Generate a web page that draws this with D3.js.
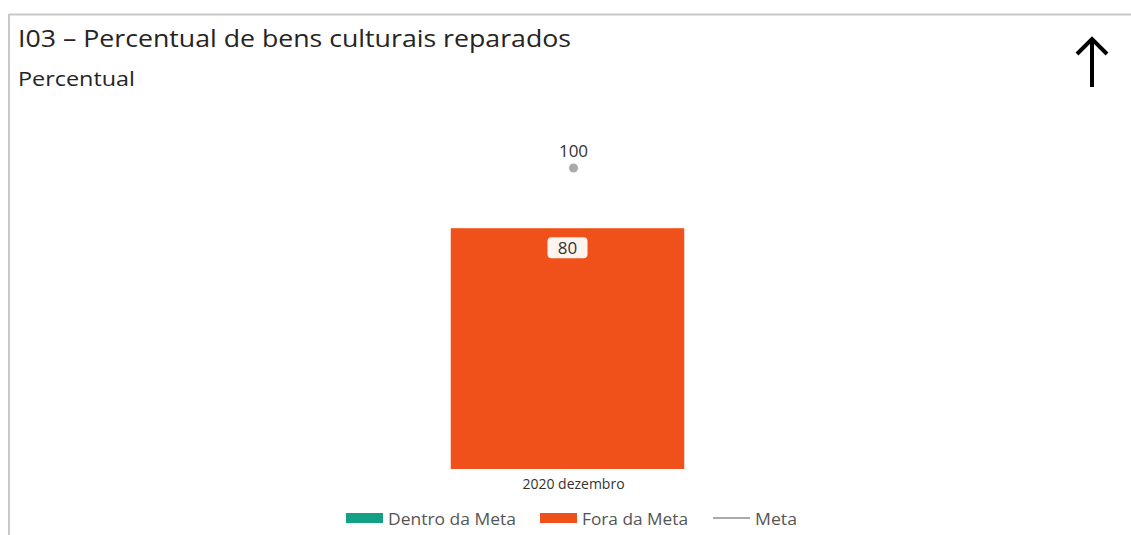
<!DOCTYPE html>
<html>
<head>
<meta charset="utf-8">
<script src="https://cdn.jsdelivr.net/npm/d3@7"></script>
<style>
  body { margin: 0; background: #fff; }
  text { font-family: "Open Sans", "Noto Sans", sans-serif; }
</style>
</head>
<body>
<div id="chart"></div>
<script>
let width = 1131,
height = 535;

// data
const categories = ["2020 dezembro"];
const realizado = [80];
const meta = [100];
const legendItems = ["Dentro da Meta", "Fora da Meta", "Meta"];

const colDentro = "#14a085", colFora = "#f0511a", colMeta = "#aaaaaa";

let svg = d3.select("#chart")
.append("svg")
.attr("width", width)
.attr("height", height);

// panel frame
svg.append("line").attr("x1", 9).attr("x2", width).attr("y1", 14.5).attr("y2", 14.5)
  .attr("stroke", "#c8c8c8").attr("stroke-width", 2);
svg.append("line").attr("x1", 9).attr("x2", 9).attr("y1", 14).attr("y2", height)
  .attr("stroke", "#c8c8c8").attr("stroke-width", 2);

svg.append("text").attr("x", 18).attr("y", 47).text("I03 – Percentual de bens culturais reparados")
  .style("font-size", "24px").attr("fill", "#252423")
  .attr("textLength", 553).attr("lengthAdjust", "spacingAndGlyphs");
svg.append("text").attr("x", 18).attr("y", 86).text("Percentual")
  .style("font-size", "20px").attr("fill", "#252423")
  .attr("textLength", 117).attr("lengthAdjust", "spacingAndGlyphs");

// arrow up
svg.append("path").attr("d", "M1092,87 L1092,41 M1077,54 L1092,39 L1107,54")
  .attr("fill", "none").attr("stroke", "#000").attr("stroke-width", 4);

let x = d3.scaleBand()
  .domain(categories)
  .range([334, 801])
  .paddingInner(0.5)
  .paddingOuter(0.25);

let y = d3.scaleLinear()
  .domain([0, 100])
  .range([469, 168]);

// bars
svg.selectAll(".bar")
  .data(categories)
  .join("rect")
  .attr("class", "bar")
  .attr("x", d => x(d))
  .attr("width", x.bandwidth())
  .attr("y", (d, i) => y(realizado[i]))
  .attr("height", (d, i) => y(0) - y(realizado[i]))
  .attr("fill", (d, i) => realizado[i] >= meta[i] ? colDentro : colFora);

// value labels
categories.forEach((c, i) => {
  let cx = x(c) + x.bandwidth() / 2;
  let g = svg.append("g");
  g.append("rect").attr("x", cx - 20).attr("y", y(realizado[i]) + 9).attr("width", 40).attr("height", 21)
    .attr("rx", 4).attr("fill", "#fff").attr("opacity", 0.93);
  g.append("text").attr("x", cx).attr("y", y(realizado[i]) + 26).attr("text-anchor", "middle")
    .text(realizado[i]).style("font-size", "17px").attr("fill", "#333");

  // meta point (line marker sits slightly right of bar centre)
  let mx = cx + 6;
  svg.append("circle").attr("cx", mx).attr("cy", y(meta[i])).attr("r", 4.5).attr("fill", colMeta);
  svg.append("text").attr("x", mx).attr("y", y(meta[i]) - 11).attr("text-anchor", "middle")
    .text(meta[i]).style("font-size", "17px").attr("fill", "#333");
});

// x axis labels
svg.selectAll(".xlab")
  .data(categories)
  .join("text")
  .attr("class", "xlab")
  .attr("x", d => x(d) + x.bandwidth() / 2 + 6)
  .attr("y", 489)
  .attr("text-anchor", "middle")
  .text(d => d)
  .style("font-size", "14px")
  .attr("fill", "#333");

// legend
const legX = [346, 540, 713];
const legW = [128, 106, 42];
legendItems.forEach((t, i) => {
  if (i < 2) {
    svg.append("rect").attr("x", legX[i]).attr("y", 513).attr("width", 37).attr("height", 10)
      .attr("fill", i == 0 ? colDentro : colFora);
  } else {
    svg.append("line").attr("x1", legX[i]).attr("x2", legX[i] + 37).attr("y1", 518).attr("y2", 518)
      .attr("stroke", colMeta).attr("stroke-width", 2);
  }
  svg.append("text").attr("x", legX[i] + 42).attr("y", 525).text(t)
    .style("font-size", "17px").attr("fill", "#555")
    .attr("textLength", legW[i]).attr("lengthAdjust", "spacingAndGlyphs");
});
</script>
</body>
</html>
